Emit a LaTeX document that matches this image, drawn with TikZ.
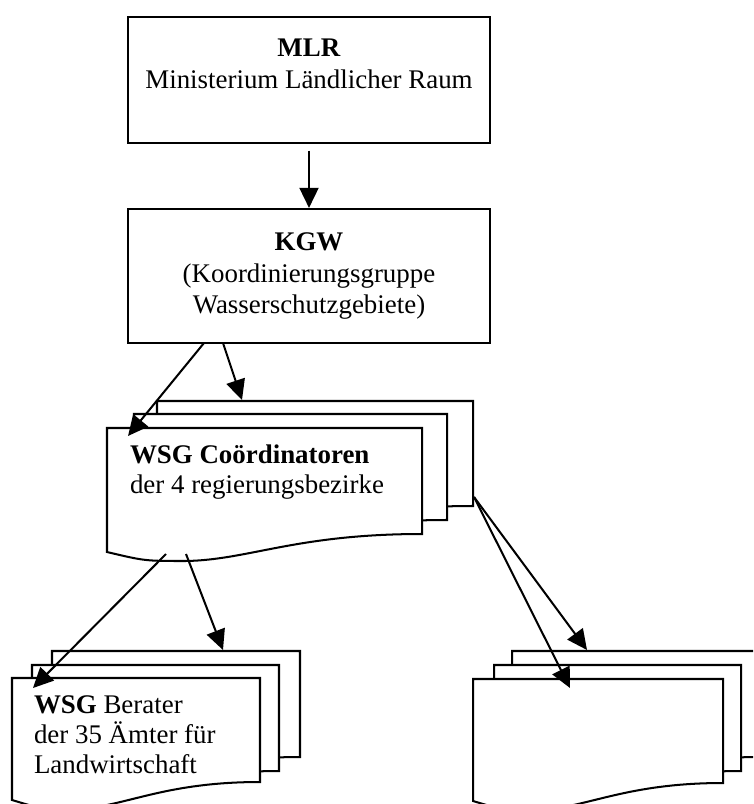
\documentclass[tikz,border=0pt]{standalone}
\usepackage{fontspec}
\setmainfont{Liberation Serif}
\usetikzlibrary{arrows.meta}

\begin{document}
\begin{tikzpicture}[x=0.446pt, y=-0.446pt, line width=0.9pt,
        box/.style={draw, minimum width=161.5pt, align=center, inner sep=0pt,
            font=\fontsize{12}{14.2}\selectfont},
        txt/.style={anchor=north west, align=left, inner sep=0pt,
            font=\fontsize{12}{13.4}\selectfont},
        arr/.style={-{Triangle[length=9pt, width=8.5pt]}},
        pics/sheet/.style args={#1/#2}{code={
            \filldraw[fill=white] (0,0) -- (#1,0) -- (#1,#2)
                .. controls ({0.6*#1},#2) and ({0.45*#1},{#2+26}) .. ({0.25*#1},{#2+27})
                .. controls ({0.12*#1},{#2+27}) .. (0,{#2+18}) -- cycle;
        }}]
        \useasboundingbox (0,0) rectangle (753,804);
        \clip (0,0) rectangle (753,804);

        % MLR
        \node[box, minimum height=56.2pt] (mlr) at (309,80)
            {\textbf{MLR}\\Ministerium Ländlicher Raum\\\mbox{}};

        % KGW
        \node[box, minimum height=59.8pt] (kgw) at (309,276)
            {\textbf{KGW}\\(Koordinierungsgruppe\\Wasserschutzgebiete)};

        % WSG Coördinatoren
        \pic at (157,401) {sheet=316/105};
        \pic at (134,414) {sheet=313/106};
        \pic at (107,428) {sheet=315/106};
        \node[txt] (wsgc) at (129,444)
            {\textbf{WSG Coördinatoren}\\der 4 regierungsbezirke};

        % WSG Berater
        \pic at (52,651) {sheet=248/106};
        \pic at (32,665) {sheet=247/106};
        \pic at (12,678) {sheet=248/104};
        \node[txt] (bera) at (33,695)
            {\textbf{WSG} Berater\\der 35 Ämter für\\Landwirtschaft};

        % remaining stack
        \pic at (512,651) {sheet=248/106};
        \pic at (494,665) {sheet=247/106};
        \pic at (473,679) {sheet=250/104};

        % connector ends
        \coordinate (kgw-a) at (204,343);
        \coordinate (kgw-b) at (223,343);
        \coordinate (wsgc-in-a) at (128,436);
        \coordinate (wsgc-in-b) at (242,400);
        \coordinate (wsgc-out-a) at (166,554);
        \coordinate (wsgc-out-b) at (186,554);
        \coordinate (wsgc-out-c) at (474,497);
        \coordinate (bera-in-a) at (33,688);
        \coordinate (bera-in-b) at (223,650);
        \coordinate (rest-in-a) at (570,688);
        \coordinate (rest-in-b) at (587,650);

        % Arrows
        \draw[arr, shorten <=3pt] (mlr) -- (kgw);
        \draw[arr] (kgw-a) -- (wsgc-in-a);
        \draw[arr] (kgw-b) -- (wsgc-in-b);
        \draw[arr] (wsgc-out-a) -- (bera-in-a);
        \draw[arr] (wsgc-out-b) -- (bera-in-b);
        \draw[arr] (wsgc-out-c) -- (rest-in-a);
        \draw[arr] (wsgc-out-c) -- (rest-in-b);
    \end{tikzpicture}
\end{document}
